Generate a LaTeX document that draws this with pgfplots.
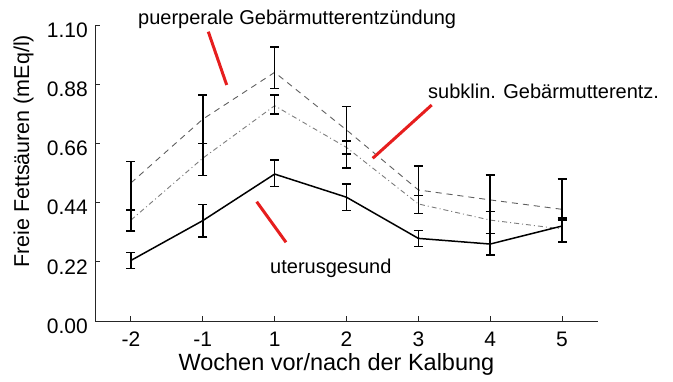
\documentclass[border=0pt]{standalone}
\usepackage{pgfplots}
\pgfplotsset{compat=1.18}
\usepackage{fontspec}
\setmainfont{Liberation Sans}
\definecolor{redline}{RGB}{230,30,30}
\definecolor{dashA}{RGB}{95,95,95}
\definecolor{dashB}{RGB}{125,125,125}
\begin{document}
\begin{tikzpicture}
\path[use as bounding box] (0,0) rectangle (673pt,381pt);
\begin{axis}[
  at={(95pt,60pt)}, anchor=south west,
  scale only axis, width=503pt, height=296pt,
  xmin=-0.5, xmax=6.5, ymin=0, ymax=1.10,
  axis x line*=bottom, axis y line*=left,
  axis line style={black!85, line width=0.9pt},
  xtick={0,1,2,3,4,5,6}, xticklabels={-2,-1,1,2,3,4,5},
  ytick={0,0.22,0.44,0.66,0.88,1.10},
  yticklabels={0.00,0.22,0.44,0.66,0.88,1.10},
  tick align=inside, major tick length=5pt,
  tick style={black!85, line width=0.9pt},
  every tick label/.append style={font=\fontsize{21}{24}\selectfont, inner sep=0pt},
  xticklabel style={anchor=base, yshift=-25.7pt},
  yticklabel style={anchor=east, xshift=-7pt, yshift=-5pt},
  xlabel={Wochen vor/nach der Kalbung},
  ylabel={Freie Fettsäuren (mEq/l)},
  xlabel style={font=\fontsize{23.5}{26}\selectfont, at={(axis description cs:0.48,-0.166)}, anchor=base, inner sep=0pt},
  ylabel style={font=\fontsize{21.5}{24}\selectfont, at={(axis description cs:-0.131,0.573)}, anchor=base, inner sep=0pt},
  clip=false,
  error bars/y dir=both, error bars/y explicit,
  error bars/error bar style={solid, black, line width=1.5pt},
  error bars/error mark options={solid, black, line width=1.5pt, mark size=4.5pt, rotate=90},
]
% puerperale Gebaermutterentzuendung
\addplot[dashA, line width=0.9pt, dash pattern=on 6pt off 5pt, mark=none] coordinates {
  (0,0.513) += (0,0.080) -= (0,0.100)
  (1,0.750) += (0,0.090) -= (0,0.090)
  (2,0.924) += (0,0.095) -= (0,0.060)
  (3,0.710) += (0,0.087) -= (0,0.090)
  (4,0.487) += (0,0.089) -= (0,0.021)
  (5,0.450) += (0,0.093) -= (0,0.044)
  (6,0.415) += (0,0.112) -= (0,0.040)
};
% subklin. Gebaermutterentz.
\addplot[dashB, line width=0.9pt, dash pattern=on 5pt off 3pt on 1pt off 3pt, mark=none] coordinates {
  (0,0.375) += (0,0.038) -= (0,0.040)
  (1,0.605) += (0,0.055) -= (0,0.065)
  (2,0.800) += (0,0.040) -= (0,0.030)
  (3,0.645) += (0,0.024) -= (0,0.077)
  (4,0.435) += (0,0.031) -= (0,0.035)
  (5,0.375) += (0,0.031) -= (0,0.049)
  (6,0.342) += (0,0.033) -= (0,0.047)
};
% uterusgesund
\addplot[black, line width=1.5pt, mark=none] coordinates {
  (0,0.225) += (0,0.030) -= (0,0.030)
  (1,0.373) += (0,0.060) -= (0,0.060)
  (2,0.546) += (0,0.053) -= (0,0.047)
  (3,0.460) += (0,0.050) -= (0,0.050)
  (4,0.307) += (0,0.030) -= (0,0.030)
  (5,0.286) += (0,0.040) -= (0,0.040)
  (6,0.353) += (0,0.030) -= (0,0.060)
};
\end{axis}
\draw[redline, line width=3pt] (208.3pt,349.3pt) -- (226.7pt,296pt);
\draw[redline, line width=3pt] (431.7pt,276pt) -- (372.7pt,222.7pt);
\draw[redline, line width=3pt] (256.7pt,179.3pt) -- (286pt,138.7pt);
\node[anchor=base west, inner sep=0pt, font=\fontsize{20}{24}\selectfont] at (138pt,356pt) {puerperale Gebärmutterentzündung};
\node[anchor=base west, inner sep=0pt, font=\fontsize{20}{24}\selectfont] at (428pt,282.7pt) {subklin. Gebärmutterentz.};
\node[anchor=base west, inner sep=0pt, font=\fontsize{20}{24}\selectfont] at (270pt,107pt) {uterusgesund};
\end{tikzpicture}
\end{document}
